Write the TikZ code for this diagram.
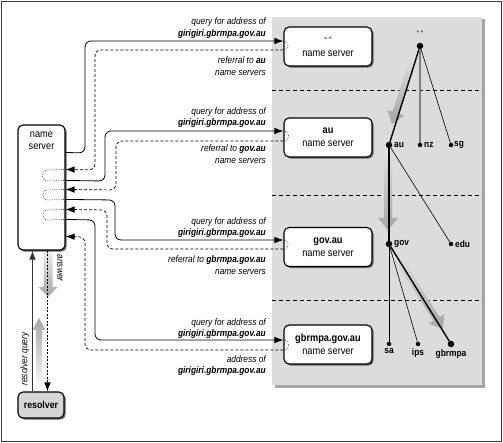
\documentclass[tikz,border=0pt]{standalone}
\usepackage{fontspec}
\setmainfont{Liberation Sans}[FakeStretch=0.88]
\usetikzlibrary{arrows.meta,calc,shadows}
\definecolor{panel}{RGB}{220,220,220}
\definecolor{panelshadow}{RGB}{165,165,165}
\definecolor{ga}{RGB}{165,165,165}
\definecolor{gafade}{RGB}{222,222,222}
\definecolor{resfill}{RGB}{214,214,214}
\definecolor{framecol}{RGB}{60,60,60}
\newcommand\fs[2]{\fontsize{#1}{#2}\selectfont}
% #1 tail, #2 tip, #3 half shaft, #4 half head, #5 head length, #6 shading
\newcommand\widearrow[6]{%
  \coordinate (wa-h) at ($(#2)!#5!(#1)$);
  \shade[#6] ($(#1)!#3!90:(#2)$) -- ($(wa-h)!#3!-90:(#1)$) -- ($(wa-h)!#4!-90:(#1)$) -- (#2)
     -- ($(wa-h)!#4!90:(#1)$) -- ($(wa-h)!#3!90:(#1)$) -- ($(#1)!#3!-90:(#2)$) -- cycle;
}
\tikzset{
  boxshadow/.style={drop shadow={shadow xshift=1.6pt, shadow yshift=-1.6pt, fill=black!60, opacity=1}},
  nsbox/.style={draw, line width=1.1pt, rounded corners=5pt, fill=white, minimum width=88pt,
     minimum height=39pt, align=center, font=\fs{10.5}{13}, inner sep=1pt, boxshadow},
  nsleft/.style={draw, line width=1.1pt, rounded corners=5pt, fill=white, minimum width=47pt,
     minimum height=125pt, boxshadow},
  resbox/.style={draw, line width=1.1pt, rounded corners=5pt, fill=resfill, minimum width=46pt,
     minimum height=26pt, font=\fs{10}{12}, boxshadow},
  lbl/.style={anchor=east, align=right, font=\itshape\fs{9.5}{11.5}, inner sep=0pt},
  query/.style={line width=0.8pt, rounded corners=6pt, -{Latex[length=9pt,width=6.5pt]}},
  reply/.style={line width=0.7pt, dash pattern=on 3pt off 2pt, rounded corners=6pt, -{Latex[length=9pt,width=6.5pt]}},
  dotloop/.style={line width=0.6pt, black!70, dash pattern=on 0.8pt off 1pt},
  bigdot/.style={circle, fill=black, inner sep=0pt, minimum size=6.5pt},
  smalldot/.style={circle, fill=black, inner sep=0pt, minimum size=4.5pt},
  tlbl/.style={font=\bfseries\fs{9.5}{11}, inner sep=1.5pt},
  heavy/.style={line width=1.4pt},
  grayedge/.style={line width=1.3pt, black!50},
  thinedge/.style={line width=0.6pt},
  mededge/.style={line width=0.8pt},
  sepline/.style={line width=0.6pt, dash pattern=on 4pt off 3pt}
}
\begin{document}
\begin{tikzpicture}[x=1pt,y=-1pt]
\useasboundingbox (0,0) rectangle (503,443);
\fill[white] (0,0) rectangle (503,443);
% panel
\fill[panelshadow] (274.5,19.5) rectangle (484.5,387.5);
\fill[panel] (272,17) rectangle (482,385);
\draw[sepline] (272,90) -- (482,90);
\draw[sepline] (272,195) -- (482,195);
\draw[sepline] (272,300) -- (482,300);
% gray path arrows
\widearrow{414,58}{392,124}{3.5pt}{9pt}{12pt}{top color=gafade, bottom color=ga}
\widearrow{388,152}{388,230}{4pt}{10pt}{12pt}{top color=gafade, bottom color=ga}
\widearrow{397,257}{443,329}{3.5pt}{9pt}{12pt}{top color=gafade, bottom color=ga}
\widearrow{39,391}{39,318}{3.2pt}{6.5pt}{12pt}{top color=ga, bottom color=white}
\widearrow{48,252}{48,297}{4.5pt}{9.5pt}{10pt}{top color=gafade!60!white, bottom color=ga}
% tree
\node[bigdot] (root) at (420,46) {};
\node[font=\fs{8}{9}, inner sep=0pt] (rootlbl) at (420,34) {“ ”};
\node[bigdot, label={[tlbl]right:au}] (au) at (389,145) {};
\node[smalldot, label={[tlbl]right:nz}] (nz) at (420,145) {};
\node[smalldot, label={[tlbl, inner sep=0.5pt]right:sg}] (sg) at (451,145) {};
\node[bigdot, label={[tlbl]right:gov}] (gov) at (389,244) {};
\node[smalldot, label={[tlbl]right:edu}] (edu) at (451,244) {};
\node[smalldot, label={[tlbl]below:sa}] (sa) at (389,344) {};
\node[smalldot, label={[tlbl]below:ips}] (ips) at (418,344) {};
\node[bigdot, label={[tlbl]below:gbrmpa}] (gbrmpa) at (451,344) {};
\draw[heavy] (root) -- (au);
\draw[grayedge] (root) -- (nz);
\draw[thinedge] (root) -- (sg);
\draw[heavy] (au) -- (gov);
\draw[thinedge] (au) -- (edu);
\draw[mededge] (gov) -- (sa);
\draw[thinedge] (gov) -- (ips);
\draw[heavy] (gov) -- (gbrmpa);
% name server boxes
\node[nsbox] (b1) at (328,46.5) {{\fs{9}{13}“ ”}\\name server};
\node[nsbox] (b2) at (328,137.5) {\textbf{au}\\name server};
\node[nsbox] (b3) at (328,247) {\textbf{gov.au}\\name server};
\node[nsbox] (b4) at (328,344.5) {\textbf{gbrmpa.gov.au}\\name server};
\node[nsleft, label={[anchor=north, align=center, font=\fs{10.5}{12}, yshift=-4pt]north:name\\server}] (ns) at (41.5,187.5) {};
\node[resbox] (res) at (41,405) {\textbf{resolver}};
% resolver query / answer
\draw[line width=0.8pt, black!80, -{Latex[length=9pt,width=6.5pt]}] ($(res.north west)+(15,0)$) -- ($(ns.south west)+(15,0)$);
\draw[reply, dash pattern=on 2pt off 1.5pt] ($(ns.south west)+(30,0)$) -- ($(res.north west)+(30,0)$);
\node[font=\itshape\fs{9.5}{11}, rotate=-90] (anslbl) at (60,268) {answer};
\node[font=\itshape\fs{9.5}{11}, rotate=90] (rqlbl) at (25,359) {resolver query};
% iterative queries
\draw[query] ($(ns.north east)+(0,28)$) -- (85,153) -- (85,41) -- ($(b1.west)+(0,-5.5)$);
\draw[dotloop] ($(b1.west)+(0,-5.5)$) to[out=0,in=0,looseness=1.8] ($(b1.west)+(0,3.5)$);
\draw[reply] ($(b1.west)+(0,3.5)$) -- (95,50) -- (95,170) -- ($(ns.north east)+(0,45)$);
\draw[dotloop] ($(ns.north east)+(0,45)$) -- (48,170) to[out=180,in=180,looseness=1.8] (48,181) -- ($(ns.north east)+(0,56)$);
\draw[query] ($(ns.north east)+(0,56)$) -- (105,181) -- (105,131) -- ($(b2.west)+(0,-6.5)$);
\draw[dotloop] ($(b2.west)+(0,-6.5)$) to[out=0,in=0,looseness=1.8] ($(b2.west)+(0,3.5)$);
\draw[reply] ($(b2.west)+(0,3.5)$) -- (116,141) -- (116,190) -- ($(ns.north east)+(0,65)$);
\draw[dotloop] ($(ns.north east)+(0,65)$) -- (48,190) to[out=180,in=180,looseness=1.8] (48,200) -- ($(ns.north east)+(0,75)$);
\draw[query] ($(ns.north east)+(0,75)$) -- (115,200) -- (115,240) -- ($(b3.west)+(0,-7)$);
\draw[dotloop] ($(b3.west)+(0,-7)$) to[out=0,in=0,looseness=1.8] ($(b3.west)+(0,2)$);
\draw[reply] ($(b3.west)+(0,2)$) -- (107,249) -- (107,210) -- ($(ns.north east)+(0,85)$);
\draw[dotloop] ($(ns.north east)+(0,85)$) -- (48,210) to[out=180,in=180,looseness=1.8] (48,220) -- ($(ns.north east)+(0,95)$);
\draw[query] ($(ns.north east)+(0,95)$) -- (95,220) -- (95,340) -- ($(b4.west)+(0,-4.5)$);
\draw[dotloop] ($(b4.west)+(0,-4.5)$) to[out=0,in=0,looseness=1.8] ($(b4.west)+(0,5.5)$);
\draw[reply] ($(b4.west)+(0,5.5)$) -- (85,350) -- (85,237) -- ($(ns.north east)+(0,112)$);
% labels
\node[lbl] (l1) at (266,28) {query for address of\\\textbf{girigiri.gbrmpa.gov.au}};
\node[lbl] (l2) at (266,66) {referral to \textbf{au}\\name servers};
\node[lbl] (l3) at (266,117.5) {query for address of\\\textbf{girigiri.gbrmpa.gov.au}};
\node[lbl] (l4) at (266,154) {referral to \textbf{gov.au}\\name servers};
\node[lbl] (l5) at (266,227.5) {query for address of\\\textbf{girigiri.gbrmpa.gov.au}};
\node[lbl] (l6) at (266,265) {referral to \textbf{gbrmpa.gov.au}\\name servers};
\node[lbl] (l7) at (266,328.5) {query for address of\\\textbf{girigiri.gbrmpa.gov.au}};
\node[lbl] (l8) at (266,365.5) {address of\\\textbf{girigiri.gbrmpa.gov.au}};
% frame
\draw[framecol, line width=1pt] (1.5,1.5) rectangle (501.5,441.5);
\end{tikzpicture}
\end{document}
